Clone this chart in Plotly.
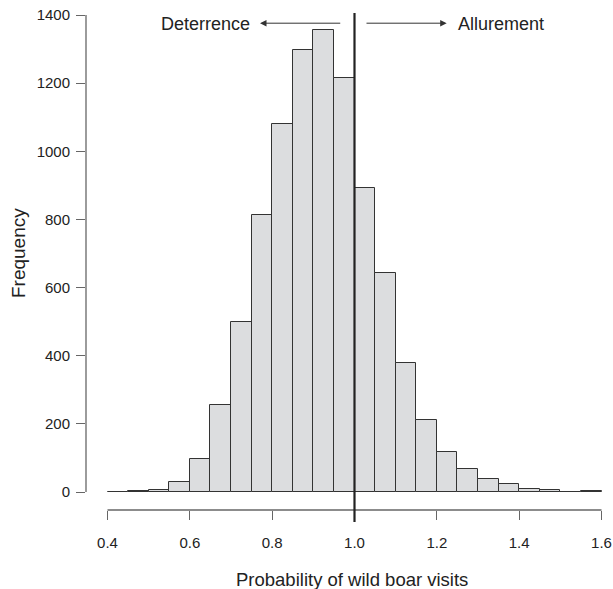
import plotly.graph_objects as go

# Histogram bins (left edges) and counts
bin_left = [0.40, 0.45, 0.50, 0.55, 0.60, 0.65, 0.70, 0.75, 0.80, 0.85, 0.90, 0.95,
            1.00, 1.05, 1.10, 1.15, 1.20, 1.25, 1.30, 1.35, 1.40, 1.45, 1.50, 1.55]
counts = [1, 2, 6, 30, 96, 255, 500, 813, 1080, 1297, 1356, 1216,
          891, 644, 380, 210, 117, 67, 37, 24, 8, 7, 1, 3]
bin_width = 0.05

x_ticks = [0.4, 0.6, 0.8, 1.0, 1.2, 1.4, 1.6]
x_tick_text = ["0.4", "0.6", "0.8", "1.0", "1.2", "1.4", "1.6"]
y_ticks = [0, 200, 400, 600, 800, 1000, 1200, 1400]
y_tick_text = [str(v) for v in y_ticks]

x_label = "Probability of wild boar visits"
y_label = "Frequency"
left_label = "Deterrence"
right_label = "Allurement"

centers = [b + bin_width / 2 for b in bin_left]

FONT = "Arial, Liberation Sans, sans-serif"
TXT = "#222222"
AX = "#666666"

fig = go.Figure()
fig.add_trace(go.Bar(
    x=centers, y=counts, width=[bin_width] * len(counts),
    marker=dict(color="#dcdddf", line=dict(color="#333333", width=1)),
    hoverinfo="skip",
))

fig.update_layout(
    width=613, height=589,
    margin=dict(l=86, r=8, t=10, b=79, autoexpand=False),
    paper_bgcolor="white", plot_bgcolor="white",
    showlegend=False, bargap=0,
    font=dict(family=FONT, color=TXT),
    xaxis=dict(range=[0.34777, 1.60850], tickvals=x_ticks, ticktext=x_tick_text,
               ticks="outside", ticklen=9, tickcolor=AX, tickwidth=1.2, automargin=False,
               showline=False, showgrid=False, zeroline=False, ticklabeloverflow="allow",
               tickfont=dict(size=15, color=TXT), ticklabelstandoff=10),
    yaxis=dict(range=[-52.83, 1414.7], tickvals=y_ticks, ticktext=y_tick_text,
               ticks="outside", ticklen=9, tickcolor=AX, tickwidth=1.2, automargin=False,
               showline=False, showgrid=False, zeroline=False, ticklabeloverflow="allow",
               tickfont=dict(size=15, color=TXT), ticklabelstandoff=3),
)

# R-style detached axis lines
fig.add_shape(type="line", xref="x", yref="paper", x0=x_ticks[0], x1=x_ticks[-1],
              y0=0, y1=0, line=dict(color=AX, width=1.3))
fig.add_shape(type="line", xref="paper", yref="y", x0=0, x1=0,
              y0=y_ticks[0], y1=y_ticks[-1], line=dict(color=AX, width=1.3))

# Vertical reference line at 1.0
fig.add_shape(type="line", xref="x", yref="paper", x0=1.0, x1=1.0,
              y0=-0.024, y1=0.994, line=dict(color="#222222", width=2.2))

# Arrows
fig.add_annotation(x=0.7705, y=1376, ax=0.969, ay=1376, xref="x", yref="y",
                   axref="x", ayref="y", text="", showarrow=True,
                   arrowhead=2, arrowsize=1.3, arrowwidth=1, arrowcolor="#333333", standoff=0)
fig.add_annotation(x=1.224, y=1376, ax=1.0255, ay=1376, xref="x", yref="y",
                   axref="x", ayref="y", text="", showarrow=True,
                   arrowhead=2, arrowsize=1.3, arrowwidth=1, arrowcolor="#333333", standoff=0)
fig.add_annotation(x=0.639, y=1374, xref="x", yref="y", text=left_label, showarrow=False,
                   font=dict(size=18, color=TXT), xanchor="center", yanchor="middle")
fig.add_annotation(x=1.356, y=1374, xref="x", yref="y", text=right_label, showarrow=False,
                   font=dict(size=18, color=TXT), xanchor="center", yanchor="middle")

# Axis titles
fig.add_annotation(x=0.995, y=-0.138, xref="x", yref="paper", text=x_label, showarrow=False,
                   font=dict(size=18.5, color=TXT), xanchor="center", yanchor="middle")
fig.add_annotation(x=-0.13, y=700, xref="paper", yref="y", text=y_label, showarrow=False,
                   textangle=-90, font=dict(size=19, color=TXT), xanchor="center", yanchor="middle")

# remove the browser's default 8px body margin so the figure fills the window
fig.write_html("out.html", config={"displayModeBar": False},
               post_script="document.body.style.margin='0';document.body.style.overflow='hidden';")
